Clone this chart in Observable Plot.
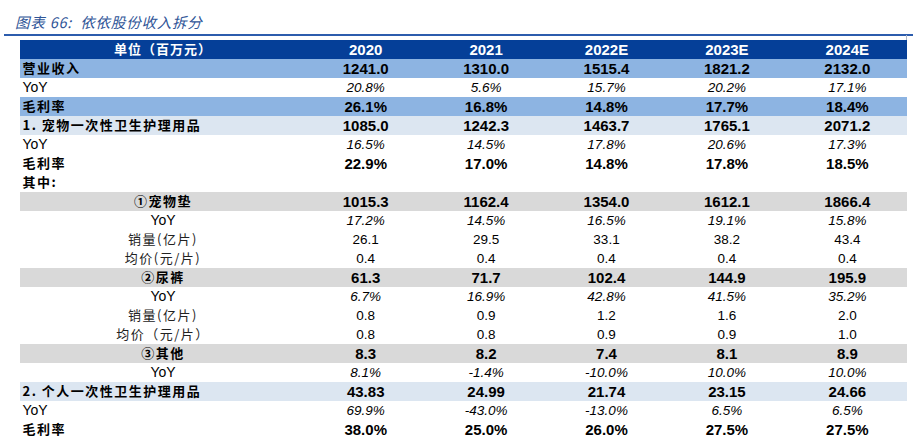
<!DOCTYPE html>
<html>
<head>
<meta charset="utf-8">
<script src="https://cdn.jsdelivr.net/npm/d3@7"></script>
<script src="https://cdn.jsdelivr.net/npm/@observablehq/plot@0.6"></script>
<style>
  body { margin: 0; background: #fff; }
  #wrap { position: relative; width: 913px; height: 442px; overflow: hidden; }
  #title { position: absolute; left: 15px; top: 11px; font: italic 14.5px "Noto Sans CJK SC", "Liberation Sans", sans-serif; color: #2f5597; white-space: pre; letter-spacing: 0.8px; }
  #rule { position: absolute; left: 4px; right: 0; top: 34px; border-top: 2px solid #2c5cad; }
  #vrule { position: absolute; left: 906px; top: 35px; height: 40px; border-left: 1px solid #b0b8c8; }
  #chart { position: absolute; left: 0; top: 0; }
</style>
</head>
<body>
<div id="wrap">
  <div id="title">图表 66:  依依股份收入拆分</div>
  <div id="rule"></div>
  <div id="vrule"></div>
  <div id="chart"></div>
</div>
<script>
// ---- data ----
const headerLabel = "单位（百万元）";
const years = ["2020", "2021", "2022E", "2023E", "2024E"];
const rowLabels = [
  "营业收入", "YoY", "毛利率",
  "1. 宠物一次性卫生护理用品", "YoY", "毛利率", "其中:",
  "①宠物垫", "YoY", "销量(亿片)", "均价(元/片)",
  "②尿裤", "YoY", "销量(亿片)", "均价（元/片）",
  "③其他", "YoY",
  "2. 个人一次性卫生护理用品", "YoY", "毛利率"
];
const rowKinds = [
  "total", "yoy", "marginHi",
  "seg", "yoy", "margin", "note",
  "sub", "subYoy", "subQty", "subQty",
  "sub", "subYoy", "subQty", "subQty",
  "sub", "subYoy",
  "seg", "yoy", "margin"
];
const rowDigits = [1,1,1, 1,1,1,null, 1,1,1,1, 1,1,1,1, 1,1, 2,1,1];
const v2020 = [1241.0, 20.8, 26.1, 1085.0, 16.5, 22.9, null, 1015.3, 17.2, 26.1, 0.4, 61.3, 6.7, 0.8, 0.8, 8.3, 8.1, 43.83, 69.9, 38.0];
const v2021 = [1310.0, 5.6, 16.8, 1242.3, 14.5, 17.0, null, 1162.4, 14.5, 29.5, 0.4, 71.7, 16.9, 0.9, 0.8, 8.2, -1.4, 24.99, -43.0, 25.0];
const v2022 = [1515.4, 15.7, 14.8, 1463.7, 17.8, 14.8, null, 1354.0, 16.5, 33.1, 0.4, 102.4, 42.8, 1.2, 0.9, 7.4, -10.0, 21.74, -13.0, 26.0];
const v2023 = [1821.2, 20.2, 17.7, 1765.1, 20.6, 17.8, null, 1612.1, 19.1, 38.2, 0.4, 144.9, 41.5, 1.6, 0.9, 8.1, 10.0, 23.15, 6.5, 27.5];
const v2024 = [2132.0, 17.1, 18.4, 2071.2, 17.3, 18.5, null, 1866.4, 15.8, 43.4, 0.4, 195.9, 35.2, 2.0, 1.0, 8.9, 10.0, 24.66, 6.5, 27.5];
const yearValues = [v2020, v2021, v2022, v2023, v2024];

// ---- layout / style ----
const labelW = 285, colW = 120.4;
const totalW = labelW + colW * years.length;
const colCenter = j => labelW + colW * j + colW / 2;
const bg = { total: "#8db4e2", marginHi: "#8db4e2", seg: "#dce6f1", sub: "#d9d9d9" };
const pctKindsAll = new Set(["yoy", "margin", "marginHi", "subYoy"]);

const rows = rowLabels.map((label, k) => ({ r: k + 1, label, kind: rowKinds[k] }));
const cells = [];
rows.forEach((row, k) => {
  yearValues.forEach((vals, j) => {
    const v = vals[k];
    if (v == null) return;
    let t = v.toFixed(rowDigits[k]);
    if (pctKindsAll.has(row.kind)) t += "%";
    cells.push({ r: row.r, j, kind: row.kind, text: t });
  });
});
const headerCells = years.map((y, j) => ({ j, text: y }));

const leftBold = new Set(["total", "marginHi", "seg", "margin", "note"]);
const valBold = new Set(["total", "marginHi", "seg", "margin", "sub"]);
const valItalic = new Set(["yoy", "subYoy"]);

const cjk = '"Noto Sans CJK SC", sans-serif';
const latin = '"Liberation Sans", Arial, sans-serif';

const svg = Plot.plot({
  width: 913,
  height: 442,
  marginTop: 36.5,
  marginBottom: 0,
  marginLeft: 20,
  marginRight: 913 - 20 - totalW,
  x: { type: "linear", domain: [0, totalW], axis: null },
  y: { type: "band", domain: d3.range(0, rows.length + 1), paddingInner: 0, paddingOuter: 0, axis: null },
  style: { background: "transparent" },
  marks: [
    Plot.barX([0], { x1: 0, x2: totalW, y: () => 0, fill: "#053f98" }),
    Plot.barX(rows.filter(d => bg[d.kind]), { x1: 0, x2: totalW, y: "r", fill: d => bg[d.kind] }),
    Plot.text([headerLabel], { x: labelW / 2, y: () => 0, text: d => d, fill: "white", fontWeight: "bold", fontSize: 13, fontFamily: cjk, ariaDescription: "cjkh" }),
    Plot.text(headerCells, { x: d => colCenter(d.j), y: () => 0, text: "text", fill: "white", fontWeight: "bold", fontSize: 15, fontFamily: latin }),
    Plot.text(rows.filter(d => leftBold.has(d.kind)), { x: 2, y: "r", text: "label", textAnchor: "start", fontWeight: "bold", fontSize: 13, fontFamily: cjk, fill: "#000", ariaDescription: "cjk" }),
    Plot.text(rows.filter(d => d.kind === "yoy"), { x: 2, y: "r", text: "label", textAnchor: "start", fontSize: 14, fontFamily: latin, fill: "#000" }),
    Plot.text(rows.filter(d => d.kind === "sub"), { x: labelW / 2, y: "r", text: "label", fontWeight: "bold", fontSize: 13, fontFamily: cjk, fill: "#000", ariaDescription: "cjk" }),
    Plot.text(rows.filter(d => d.kind === "subYoy"), { x: labelW / 2, y: "r", text: "label", fontSize: 14, fontFamily: latin, fill: "#000" }),
    Plot.text(rows.filter(d => d.kind === "subQty"), { x: labelW / 2, y: "r", text: "label", fontSize: 13, fontFamily: cjk, fill: "#222", ariaDescription: "cjk" }),
    Plot.text(cells.filter(d => valBold.has(d.kind)), { x: d => colCenter(d.j), y: "r", text: "text", fontWeight: "bold", fontSize: 15, fontFamily: latin, fill: "#000" }),
    Plot.text(cells.filter(d => valItalic.has(d.kind)), { x: d => colCenter(d.j), y: "r", text: "text", fontStyle: "italic", fontSize: 13.5, fontFamily: latin, fill: "#000" }),
    Plot.text(cells.filter(d => d.kind === "subQty"), { x: d => colCenter(d.j), y: "r", text: "text", fontSize: 13.5, fontFamily: latin, fill: "#000" })
  ]
});
svg.querySelectorAll('[aria-description="cjk"] text').forEach(t => t.setAttribute("letter-spacing", "1.5"));
svg.querySelectorAll('[aria-description="cjkh"] text').forEach(t => t.setAttribute("letter-spacing", "1"));
document.getElementById("chart").appendChild(svg);
</script>
</body>
</html>
